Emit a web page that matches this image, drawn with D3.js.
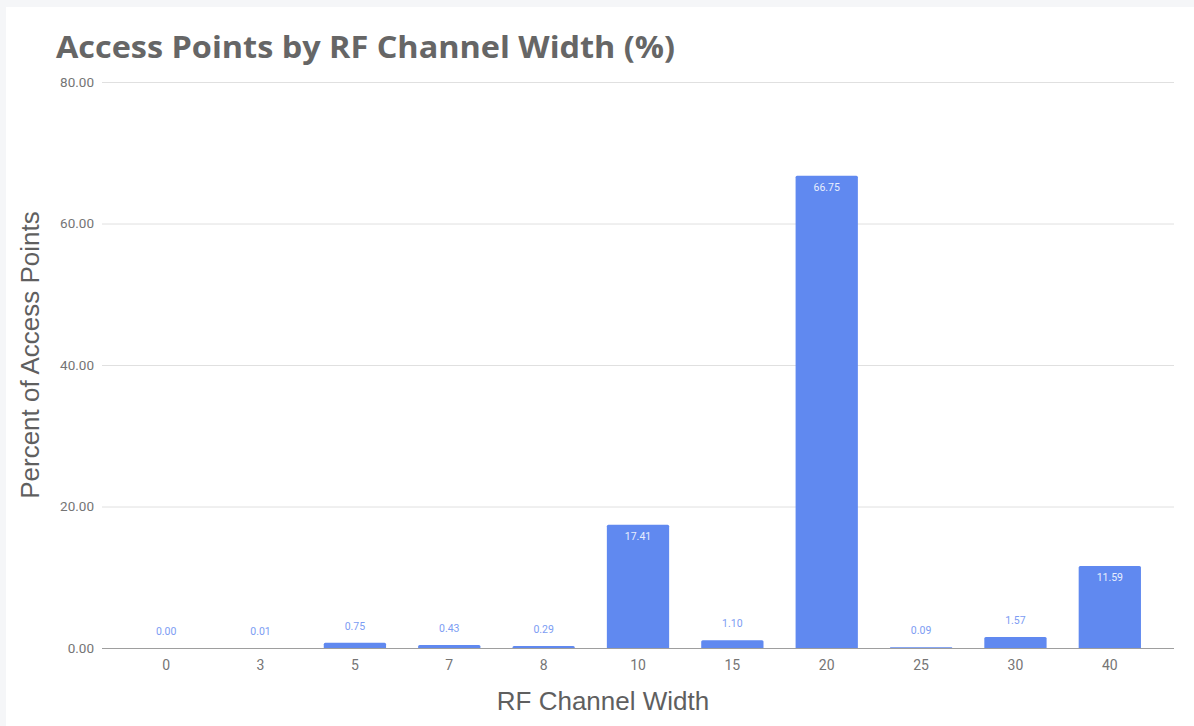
<!DOCTYPE html>
<html>
<head>
<meta charset="utf-8">
<script src="https://cdn.jsdelivr.net/npm/d3@7"></script>
<style>
  html, body { margin: 0; padding: 0; background: #f5f6f8; }
  svg { display: block; }
</style>
</head>
<body>
<svg id="chart" width="1194" height="726"></svg>
<script>
// Channel widths (MHz) and share of access points using each
const widths = ["0", "3", "5", "7", "8", "10", "15", "20", "25", "30", "40"];
const percents = [0.00, 0.01, 0.75, 0.43, 0.29, 17.41, 1.10, 66.75, 0.09, 1.57, 11.59];
const yTicks = [0, 20, 40, 60, 80];

const svg = d3.select("#chart");
const W = 1194, H = 726;

// white card
svg.append("rect").attr("x", 6).attr("y", 7).attr("width", W - 6).attr("height", H - 7).attr("fill", "#fff");

const plot = { left: 102, right: 1174, top: 82, bottom: 648 };

const x = d3.scaleBand().domain(widths).range([119, 1157]).paddingInner(0.34).paddingOuter(0.17);
const y = d3.scaleLinear().domain([0, 80]).range([plot.bottom, plot.top]);

// title
svg.append("text")
  .attr("x", 56).attr("y", 58)
  .attr("font-family", "'Open Sans', sans-serif")
  .attr("font-weight", 700)
  .attr("font-size", 31)
  .attr("fill", "#666")
  .attr("textLength", 619)
  .attr("lengthAdjust", "spacingAndGlyphs")
  .text("Access Points by RF Channel Width (%)");

// gridlines + y tick labels
const yAxis = d3.axisLeft(y).tickValues(yTicks).tickFormat(d3.format(".2f"))
  .tickSize(-(plot.right - plot.left)).tickPadding(8);
const gy = svg.append("g").attr("transform", `translate(${plot.left},0)`).call(yAxis);
gy.select(".domain").remove();
gy.selectAll(".tick line").attr("stroke", "#e0e0e0").attr("stroke-width", 1);
gy.selectAll(".tick text")
  .attr("font-family", "Roboto, sans-serif").attr("font-size", 13.5).attr("fill", "#757575");

// bars
const barColor = "#6089f0";
const r = 1.5;
svg.append("g").selectAll("path").data(widths).join("path")
  .attr("fill", barColor)
  .attr("d", (w, i) => {
    const x0 = x(w), bw = x.bandwidth();
    const y0 = y(percents[i]), yb = y(0);
    const h = yb - y0;
    if (h < 0.5) return `M${x0},${yb - 1}h${bw}v1h${-bw}Z`;
    const rr = Math.min(r, h);
    return `M${x0},${yb}V${y0 + rr}Q${x0},${y0} ${x0 + rr},${y0}H${x0 + bw - rr}Q${x0 + bw},${y0} ${x0 + bw},${y0 + rr}V${yb}Z`;
  })
  .attr("opacity", (w, i) => percents[i] < 0.05 ? 0 : 1);

// baseline
svg.append("line")
  .attr("x1", plot.left).attr("x2", plot.right)
  .attr("y1", plot.bottom + 0.5).attr("y2", plot.bottom + 0.5)
  .attr("stroke", "#9e9e9e").attr("stroke-width", 1.2);

// value labels
svg.append("g").selectAll("text").data(widths).join("text")
  .attr("x", w => x(w) + x.bandwidth() / 2)
  .attr("y", (w, i) => {
    const v = percents[i];
    return v > 5 ? y(v) + 15 : y(v) - 13;
  })
  .attr("text-anchor", "middle")
  .attr("font-family", "Roboto, sans-serif")
  .attr("font-size", 10.5)
  .attr("fill", (w, i) => percents[i] > 5 ? "#e8eefd" : "#7c9cf3")
  .text((w, i) => d3.format(".2f")(percents[i]));

// x tick labels
const xAxis = d3.axisBottom(x).tickSize(0).tickPadding(12);
const gx = svg.append("g").attr("transform", `translate(0,${plot.bottom})`).call(xAxis);
gx.select(".domain").remove();
gx.selectAll(".tick text")
  .attr("font-family", "Roboto, sans-serif").attr("font-size", 14).attr("fill", "#757575");

// axis titles
svg.append("text")
  .attr("x", 603).attr("y", 710)
  .attr("text-anchor", "middle")
  .attr("font-family", "'Liberation Sans', Arial, sans-serif").attr("font-size", 26).attr("fill", "#5f5f5f")
  .text("RF Channel Width");

svg.append("text")
  .attr("transform", "translate(39,355) rotate(-90)")
  .attr("text-anchor", "middle")
  .attr("font-family", "'Liberation Sans', Arial, sans-serif").attr("font-size", 26).attr("fill", "#5f5f5f")
  .text("Percent of Access Points");
</script>
</body>
</html>
